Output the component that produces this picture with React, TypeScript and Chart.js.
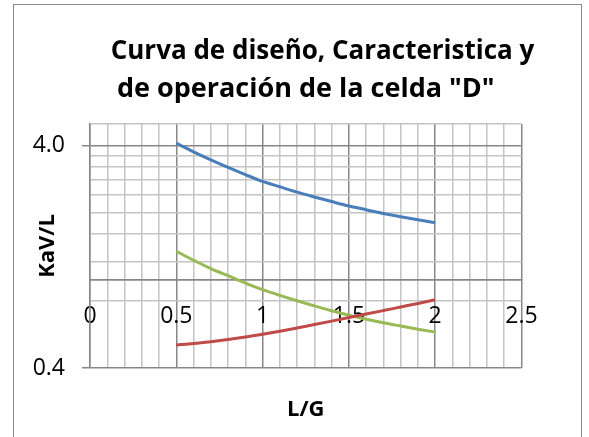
import React, { useEffect, useRef } from 'react';
import { Chart, registerables } from 'chart.js';

Chart.register(...registerables);

// ---- data ----
const lgValues = [0.5, 0.6, 0.7, 0.8, 0.9, 1.0, 1.1, 1.2, 1.3, 1.4, 1.5, 1.6, 1.7, 1.8, 1.9, 2.0];
const caracteristica = [4.10, 3.75, 3.45, 3.19, 2.96, 2.76, 2.61, 2.47, 2.35, 2.24, 2.14, 2.06, 1.98, 1.915, 1.855, 1.80];
const diseno = [1.34, 1.22, 1.12, 1.04, 0.964, 0.90, 0.848, 0.802, 0.761, 0.723, 0.69, 0.663, 0.639, 0.618, 0.598, 0.58];
const operacion = [0.508, 0.515, 0.525, 0.537, 0.551, 0.567, 0.585, 0.605, 0.627, 0.65, 0.674, 0.699, 0.725, 0.752, 0.78, 0.81];

const xGridValues = [0, 0.1, 0.2, 0.3, 0.4, 0.5, 0.6, 0.7, 0.8, 0.9, 1.0, 1.1, 1.2, 1.3, 1.4, 1.5, 1.6, 1.7, 1.8, 1.9, 2.0, 2.1, 2.2, 2.3, 2.4, 2.5];
const xLabelValues = [0, 0.5, 1, 1.5, 2, 2.5];
const xLabels = ['0', '0.5', '1', '1.5', '2', '2.5'];

const yGridValues = [0.4, 0.8, 1, 1.2, 1.6, 2.0, 2.4, 2.8, 3.2, 3.6, 4.0, 5];
const yLabelValues = [0.4, 4.0];
const yLabels = ['0.4', '4.0'];
const yMajorValues = [0.4, 1, 4.0];

const titleLine1 = 'Curva de diseño, Caracteristica y';
const titleLine2 = 'de operación de la celda "D"';
const xTitle = 'L/G';
const yTitle = 'KaV/L';

const MAJOR = '#878787';
const MINOR = '#c4c4c4';
const FONT = '"Open Sans"';

export default function App() {
  const canvasRef = useRef<HTMLCanvasElement | null>(null);

  useEffect(() => {
    if (!canvasRef.current) return;
    const mk = (vals: number[]) => lgValues.map((x, i) => ({ x, y: vals[i] }));
    const chart = new Chart(canvasRef.current, {
      type: 'line',
      data: {
        datasets: [
          { data: mk(caracteristica), borderColor: '#4a7ebb', borderWidth: 3, pointRadius: 0, cubicInterpolationMode: 'monotone', xAxisID: 'x', yAxisID: 'y' },
          { data: mk(operacion), borderColor: '#be4b48', borderWidth: 3, pointRadius: 0, cubicInterpolationMode: 'monotone', xAxisID: 'x', yAxisID: 'y' },
          { data: mk(diseno), borderColor: '#98b954', borderWidth: 3, pointRadius: 0, cubicInterpolationMode: 'monotone', xAxisID: 'x', yAxisID: 'y' },
        ] as any,
      },
      options: {
        responsive: false,
        animation: false,
        layout: { padding: { left: 0, right: 0, top: 0, bottom: 0 } },
        plugins: {
          legend: { display: false },
          tooltip: { enabled: false },
          title: {
            display: true,
            text: titleLine1,
            fullSize: true,
            color: '#000',
            font: { family: FONT, size: 26, weight: 'bold' },
            padding: { top: 36, bottom: 0 },
          },
          subtitle: {
            display: true,
            text: titleLine2,
            fullSize: false,
            color: '#000',
            font: { family: FONT, size: 27, weight: 'bold' },
            padding: { top: 6, bottom: 18.4 },
          },
        },
        scales: {
          x: {
            type: 'linear',
            position: { y: 1 } as any,
            min: 0,
            max: 2.5,
            bounds: 'data',
            afterBuildTicks: (s: any) => { s.ticks = xGridValues.map((v) => ({ value: v })); },
            afterFit: (s: any) => { s.height = 0; },
            ticks: {
              autoSkip: false,
              maxRotation: 0,
              minRotation: 0,
              padding: 23,
              color: '#000',
              font: { family: FONT, size: 23 },
              callback: (_v: any, i: number, t: any[]) => {
                const k = xLabelValues.indexOf(t[i].value);
                return k >= 0 ? xLabels[k] : '';
              },
            },
            grid: {
              drawTicks: false,
              lineWidth: 1.5,
              color: (ctx: any) => (ctx.tick && xLabelValues.indexOf(ctx.tick.value) >= 0 ? MAJOR : MINOR),
            },
            border: { display: true, color: MAJOR, width: 1.5 },
          },
          xb: {
            type: 'linear',
            position: 'bottom',
            display: true,
            grid: { display: false, drawTicks: false },
            border: { display: false },
            ticks: { display: false },
            afterFit: (s: any) => { s.height = 69; },
            title: {
              display: true,
              text: xTitle,
              color: '#000',
              font: { family: FONT, size: 22, weight: 'bold' },
              padding: { top: 0, bottom: 14 },
            },
          },
          y: {
            type: 'logarithmic',
            position: 'left',
            min: 0.4,
            max: 5,
            bounds: 'data',
            afterBuildTicks: (s: any) => { s.ticks = yGridValues.map((v) => ({ value: v })); },
            afterFit: (s: any) => { s.width = 90; },
            ticks: {
              autoSkip: false,
              padding: 17,
              color: '#000',
              font: { family: FONT, size: 23 },
              callback: (_v: any, i: number, t: any[]) => {
                const k = yLabelValues.indexOf(t[i].value);
                return k >= 0 ? yLabels[k] : '';
              },
            },
            grid: {
              drawTicks: true,
              tickLength: 8,
              lineWidth: 1.5,
              color: (ctx: any) => (ctx.tick && yMajorValues.indexOf(ctx.tick.value) >= 0 ? MAJOR : MINOR),
              tickColor: (ctx: any) => (ctx.tick && yLabelValues.indexOf(ctx.tick.value) >= 0 ? MAJOR : 'rgba(0,0,0,0)'),
            },
            border: { display: true, color: MAJOR, width: 1.5 },
            title: {
              display: true,
              text: yTitle,
              color: '#000',
              font: { family: FONT, size: 22, weight: 'bold' },
              padding: { top: 35, bottom: 0 },
            },
          },
          yr: {
            type: 'linear',
            position: 'right',
            display: true,
            grid: { display: false, drawTicks: false },
            border: { display: false },
            ticks: { display: false },
            afterFit: (s: any) => { s.width = 123.5; },
          },
        },
      } as any,
    });
    return () => chart.destroy();
  }, []);

  return (
    <div style={{ position: 'fixed', left: 0, top: 0, width: 589, height: 437, overflow: 'hidden', background: '#fff' }}>
      <div style={{ position: 'absolute', left: 13, top: 4, width: 569, height: 480, border: '1px solid #888', boxSizing: 'border-box' }} />
      <canvas ref={canvasRef} width={645} height={437} style={{ position: 'absolute', left: 0, top: 0, display: 'block' }} />
    </div>
  );
}
